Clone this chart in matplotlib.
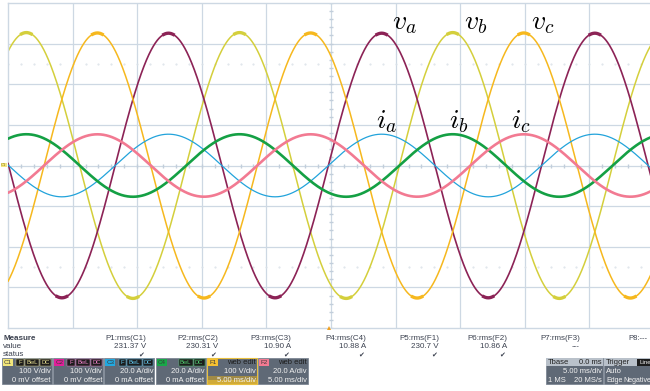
import numpy as np
import matplotlib
matplotlib.use("Agg")
import matplotlib.pyplot as plt
from matplotlib.patches import Rectangle, Polygon

plt.rcParams['mathtext.fontset'] = 'cm'

# scope settings
time_per_div = 5.0      # ms/div
volts_per_div = 100.0   # V/div
amps_per_div = 20.0     # A/div
n_xdiv, n_ydiv = 10, 8
period_ms = 16.5        # one mains cycle on screen
va_peak_ms = 12.42      # first positive peak of v_a

# measured rms values (P1..P8)
meas_names = ["P1:rms(C1)", "P2:rms(C2)", "P3:rms(C3)", "P4:rms(C4)",
              "P5:rms(F1)", "P6:rms(F2)", "P7:rms(F3)", "P8:---"]
meas_values = ["231.37 V", "230.31 V", "10.90 A", "10.88 A",
               "230.7 V", "10.86 A", "---", ""]
meas_ok = [True, True, True, True, True, True, False, False]

# traces: channel, rms, phase shift (deg), colour, width, kind
traces = [
    ("C1", 231.37, -120, "#d4cf3c", 1.1, "v"),   # v_b
    ("C2", 230.31, 0,    "#8c2356", 1.2, "v"),   # v_a
    ("C3", 10.90,  0,    "#22a3db", 0.9, "i"),   # i_a
    ("C4", 10.88,  -120, "#14a044", 1.9, "i"),   # i_b
    ("F1", 230.7,  120,  "#f6b81e", 1.1, "v"),   # v_c
    ("F2", 10.86,  120,  "#f27a92", 1.9, "i"),   # i_c
]

labels = [(r"$v_a$", 392, 29), (r"$v_b$", 464, 29), (r"$v_c$", 531, 29),
          (r"$i_a$", 376, 128), (r"$i_b$", 449, 128), (r"$i_c$", 511, 128)]

W, H = 650, 391
fig = plt.figure(figsize=(W / 100, H / 100), dpi=100)
ui = "Liberation Sans"


def fx(x):
    return x / W


def fy(y):
    return 1 - y / H


# screen area in pixels
left, right, top, bottom = 8, 654, 3, 328
ax = fig.add_axes([fx(left), fy(bottom), fx(right - left), (bottom - top) / H])
ax.set_xlim(0, n_xdiv * time_per_div)
ax.set_ylim(-n_ydiv / 2 * volts_per_div, n_ydiv / 2 * volts_per_div)
ax.set_xticks([])
ax.set_yticks([])
grid_c = "#cdd8e3"
for s in ax.spines.values():
    s.set_color(grid_c)
    s.set_linewidth(1.0)

for k in range(1, n_xdiv):
    ax.axvline(k * time_per_div, color=grid_c, lw=0.9, zorder=0)
for k in range(1, n_ydiv):
    ax.axhline((k - n_ydiv / 2) * volts_per_div, color=grid_c, lw=0.9, zorder=0)

# sub-division ticks on the centre cross and dotted +-2.5 div rows
sub_t = np.arange(0, n_xdiv * time_per_div + 0.01, time_per_div / 5)
sub_v = np.arange(-n_ydiv / 2, n_ydiv / 2 + 0.01, 0.2) * volts_per_div
ax.plot(sub_t, np.zeros_like(sub_t), ls="none", marker="|", ms=2.5, color="#c2cedb", zorder=0)
ax.plot(np.full_like(sub_v, n_xdiv / 2 * time_per_div), sub_v, ls="none",
        marker="_", ms=2.5, color="#c2cedb", zorder=0)
for lvl in (2.5, -2.5):
    ax.plot(sub_t, np.full_like(sub_t, lvl * volts_per_div), ls="none", marker=".",
            ms=1.0, color="#dae1e8", zorder=0)

t = np.linspace(0, n_xdiv * time_per_div, 3000)
ax2 = ax.twinx()
ax2.set_ylim(-n_ydiv / 2 * amps_per_div, n_ydiv / 2 * amps_per_div)
ax2.axis("off")

for z, (ch, rms, ph, col, lw, kind) in enumerate(traces):
    amp = rms * np.sqrt(2)
    y = amp * np.cos(2 * np.pi * (t - va_peak_ms) / period_ms + np.deg2rad(ph))
    target = ax if kind == "v" else ax2
    target.plot(t, y, color=col, lw=lw, zorder=2 + z, solid_capstyle="round")
    if kind == "v":
        # noise band thickens the trace around the crests
        crest = np.where(np.abs(y) > 0.99 * amp, y, np.nan)
        target.plot(t, crest, color=col, lw=2.4, zorder=2 + z)

for txt, x, y in labels:
    fig.text(fx(x), fy(y), txt, fontsize=20, color="black", ha="left", va="baseline")

# ground marker for C1 and trigger position
fig.text(fx(1), fy(165), "C1", fontsize=3, color="#8a7a10", va="center",
         bbox=dict(boxstyle="square,pad=0.1", fc="#f3e680", ec="none"))
fig.patches.append(Polygon([[fx(327), fy(330)], [fx(331), fy(330)], [fx(329), fy(326)]],
                           closed=True, fc="#f0a020", ec="none", transform=fig.transFigure))

# measurement table
font = dict(family=ui, color="#3c4250")
fig.text(fx(3), fy(339), "Measure", fontsize=5.8, weight="bold", va="center", **font)
fig.text(fx(3), fy(347), "value", fontsize=5.8, va="center", **font)
fig.text(fx(3), fy(355), "status", fontsize=5.8, va="center", **font)
col_right = [146, 218, 291, 366, 439, 507, 580, 652]
for i, (name, val, ok) in enumerate(zip(meas_names, meas_values, meas_ok)):
    xr = col_right[i]
    if name == "P8:---":
        fig.text(fx(628), fy(339), name, fontsize=5.5, va="center", **font)
        continue
    fig.text(fx(xr), fy(339), name, fontsize=5.8, ha="right", va="center", **font)
    fig.text(fx(xr), fy(347), val, fontsize=5.8, ha="right", va="center", **font)
    if ok:
        fig.text(fx(xr - 2), fy(355), "\u2714", fontsize=5, ha="right", va="center",
                 family="DejaVu Sans", color="#3c4250")


def rect(x0, y0, x1, y1, fc, ec="none", lw=0.6, alpha=1.0):
    fig.patches.append(Rectangle((fx(x0), fy(y1)), fx(x1 - x0), (y1 - y0) / H,
                                 fc=fc, ec=ec, lw=lw, alpha=alpha,
                                 transform=fig.transFigure))


# channel descriptor boxes
boxes = [
    ("C1", "#f2e67a", ["F", "BwL", "DC"], "100 V/div", "0 mV offset", "#e8e090"),
    ("C2", "#e0209a", ["F", "BwL", "DC"], "100 V/div", "0 mV offset", "#f080c8"),
    ("C3", "#22a8e0", ["F", "BwL", "DC"], "20.0 A/div", "0 mA offset", "#60c8f0"),
    ("C4", "#18a848", ["BwL", "DC"], "20.0 A/div", "0 mA offset", "#50d070"),
    ("F1", "#f6c030", ["web edit"], "100 V/div", "5.00 ms/div", None),
    ("F2", "#f27a92", ["web edit"], "20.0 A/div", "5.00 ms/div", None),
]
bx0 = 2
for k, (tag, tagc, flags, row1, row2, flagc) in enumerate(boxes):
    x0 = bx0 + k * 51.2
    x1 = x0 + 50
    rect(x0, 358, x1, 384, "#5f6976", ec="#7d8794")
    if tag == "F1":
        rect(x0, 376, x1, 384, "#d8a820", alpha=0.55)
        rect(x0, 380, x1, 384, "#f0c030", alpha=0.6)
        rect(x0, 358, x1, 384, "none", ec="#e8c040", lw=0.8)
    rect(x0 + 1, 359, x0 + 11, 366, tagc)
    fig.text(fx(x0 + 6), fy(362.5), tag, fontsize=4.5, ha="center", va="center",
             family=ui, color="#3a3a3a")
    if flagc is not None:
        xr = x1 - 1
        for fl in reversed(flags):
            w = 4.5 + 3.2 * len(fl)
            rect(xr - w, 359, xr, 366, "#1c1c1c", ec=flagc, lw=0.3)
            fig.text(fx(xr - w / 2), fy(362.5), fl, fontsize=4.2, ha="center",
                     va="center", family=ui, color=flagc)
            xr -= w + 1
    else:
        fig.text(fx(x1 - 1), fy(362.5), flags[0], fontsize=5.5, ha="right",
                 va="center", family=ui, color="#1c1c1c")
    fig.text(fx(x1 - 1), fy(371.5), row1, fontsize=5.5, ha="right", va="center",
             family=ui, color="#f2f2f2")
    fig.text(fx(x1 - 1), fy(380), row2, fontsize=5.5, ha="right", va="center",
             family=ui, color="#f2f2f2")

# timebase and trigger boxes
rect(546, 358, 603, 384, "#5f6976", ec="#7d8794")
rect(546, 358, 603, 366, "#b9c1ca")
fig.text(fx(548), fy(362), "Tbase", fontsize=5.5, va="center", family=ui, color="#222")
fig.text(fx(602), fy(362), "0.0 ms", fontsize=5.5, ha="right", va="center",
         family=ui, color="#222")
fig.text(fx(602), fy(371.5), "5.00 ms/div", fontsize=5.5, ha="right", va="center",
         family=ui, color="#f2f2f2")
fig.text(fx(548), fy(380), "1 MS", fontsize=5.5, va="center", family=ui, color="#f2f2f2")
fig.text(fx(602), fy(380), "20 MS/s", fontsize=5.5, ha="right", va="center",
         family=ui, color="#f2f2f2")

rect(604, 358, 660, 384, "#5f6976", ec="#7d8794")
rect(604, 358, 660, 366, "#b9c1ca")
fig.text(fx(606), fy(362), "Trigger", fontsize=5.5, va="center", family=ui, color="#222")
rect(637, 359, 660, 365.5, "#1c1c1c")
fig.text(fx(639), fy(362.3), "Line", fontsize=4.5, va="center", family=ui, color="#eee")
fig.text(fx(606), fy(371.5), "Auto", fontsize=5.5, va="center", family=ui, color="#f2f2f2")
fig.text(fx(606), fy(380), "Edge", fontsize=5.0, va="center", family=ui, color="#f2f2f2")
fig.text(fx(623), fy(380), "Negative", fontsize=5.0, va="center", family=ui, color="#f2f2f2")

fig.savefig("out.png", dpi=100)
